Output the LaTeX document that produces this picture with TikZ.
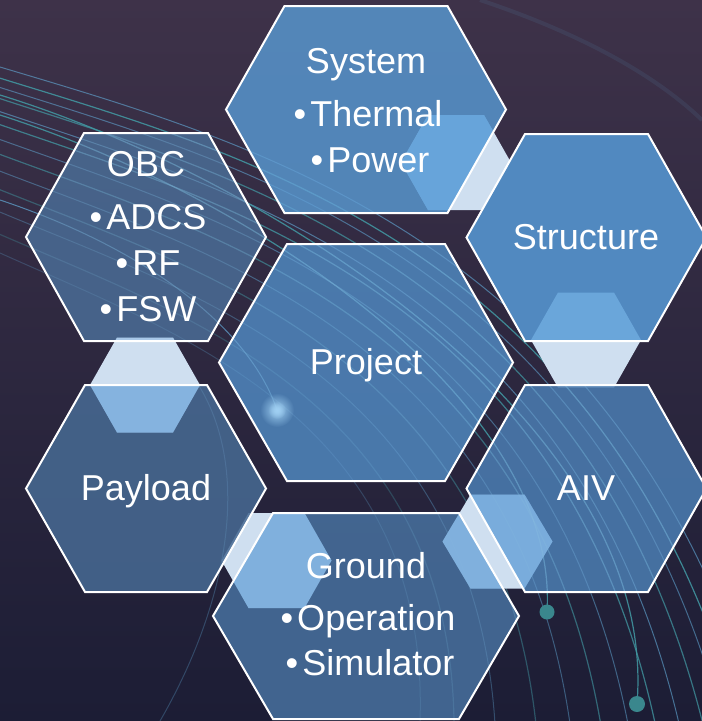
\documentclass[tikz,border=0pt]{standalone}
\usepackage{fontspec}
\setmainfont{Liberation Sans}
\usetikzlibrary{fadings}

\definecolor{bgtop}{HTML}{3E3249}
\definecolor{bgbot}{HTML}{1C1D35}
\definecolor{streakteal}{HTML}{429AA4}
\definecolor{streakblue}{HTML}{62A9D6}
\definecolor{dotteal}{HTML}{3A878D}
\definecolor{pale}{HTML}{CFDFF0}
\definecolor{hexsys}{HTML}{5794CB}
\definecolor{hexobc}{HTML}{4A6C95}
\definecolor{hexstr}{HTML}{5189C0}
\definecolor{hexprj}{HTML}{4F86BD}
\definecolor{hexpay}{HTML}{476A93}
\definecolor{hexaiv}{HTML}{4B7DB2}
\definecolor{hexgnd}{HTML}{47709E}
\definecolor{litsys}{HTML}{67A4DA}
\definecolor{litstr}{HTML}{6AA6DA}
\definecolor{litpay}{HTML}{85B3DF}
\definecolor{litgnd}{HTML}{80B0DD}
\definecolor{litaiv}{HTML}{79ACDC}
\definecolor{litobc}{HTML}{A9C8E8}
\definecolor{glowc}{HTML}{9FCFF2}

\tikzfading[name=softglow, inner color=transparent!0, outer color=transparent!100]

% flat-topped hexagon: centre (#1,#2), half-width #3, half-height #4, half top edge #5
\newcommand\hexpath[5]{({#1-#3},#2) -- ({#1-#5},{#2-#4}) -- ({#1+#5},{#2-#4}) -- ({#1+#3},#2) -- ({#1+#5},{#2+#4}) -- ({#1-#5},{#2+#4}) -- cycle}
% the seven large hexagons
\newcommand\hexsystem{\hexpath{366}{109.5}{140}{103.5}{81.5}}
\newcommand\hexobcb{\hexpath{146}{237}{120}{104}{62}}
\newcommand\hexstructure{\hexpath{586.5}{237.5}{120}{103.5}{61.5}}
\newcommand\hexproject{\hexpath{366}{362.5}{147}{118.5}{79}}
\newcommand\hexpayload{\hexpath{146}{488.5}{120}{103.5}{61}}
\newcommand\hexaivb{\hexpath{586.5}{488.5}{120}{103.5}{61.5}}
\newcommand\hexground{\hexpath{366}{616}{153}{103}{93}}
% bullet followed by a small gap
\newcommand\bul{•\kern4pt}

% sweeping streaks from the left edge towards the lower right; \opk scales their opacity
\def\opk{1}
\newcommand\streakset{%
  \foreach \f/\sty/\op in {0/streakB/0.6, 0.06/streakT/0.85, 0.11/streakB/0.55, 0.17/streakT/0.7,
                           0.24/streakB/0.6, 0.31/streakT/0.75, 0.39/streakB/0.5, 0.47/streakT/0.6,
                           0.56/streakB/0.45, 0.66/streakT/0.45, 0.78/streakB/0.35, 0.9/streakT/0.3, 1/streakB/0.25}{
    \pgfmathsetmacro\opx{\op*\opk}
    \draw[\sty, opacity=\opx] (0,{67+186*\f})
       .. controls ({250-70*\f},{67+186*\f+(250-70*\f)*(0.3+0.15*\f)}) and ({620-190*\f},{240+180*\f})
       .. ({760-340*\f},721);
  }
  \pgfmathsetmacro\opx{0.85*\opk}
  \draw[streakT, opacity=\opx] (0,95) .. controls (260,175) and (660,420) .. (637,704);
  \draw[streakT, opacity=\opx] (0,115) .. controls (250,195) and (560,400) .. (547,612);
  \pgfmathsetmacro\opx{0.7*\opk}
  \draw[streakB, opacity=\opx] (0,200) .. controls (150,250) and (250,330) .. (277,410);
  \pgfmathsetmacro\opx{0.3*\opk}
  \draw[streakB, opacity=\opx] (180,360) .. controls (260,450) and (230,600) .. (160,721);
}

\tikzset{
  streakT/.style={streakteal, line width=1.2pt},
  streakB/.style={streakblue, line width=1pt},
  bighex/.style={fill opacity=0.86},
  hexrim/.style={draw=white, line width=2pt, line join=miter},
  lbl/.style={text=white, font=\fontsize{36}{40}\selectfont, anchor=base, inner sep=0pt},
}

\begin{document}
\begin{tikzpicture}[x=1pt, y=-1pt]
\useasboundingbox (0,0) rectangle (702,721);

% background
\shade[top color=bgtop, bottom color=bgbot] (0,0) rectangle (702,721);
\streakset
\draw[streakB, opacity=0.1, line width=4pt] (480,0) .. controls (570,30) and (650,70) .. (702,120);

% dots at the ends of two streaks
\fill[dotteal] (547,612) circle (7.5);
\fill[dotteal] (637,704) circle (8);

% small connector hexagons
\fill[pale] \hexpath{456}{162.5}{55}{47.5}{28};
\fill[pale] \hexpath{586}{340}{55}{47.5}{28};
\fill[pale] \hexpath{497.5}{541.5}{55}{47}{27};
\fill[pale] \hexpath{276.5}{560.5}{55}{47.5}{28};
\fill[pale] \hexpath{145}{385}{55}{47.5}{28};

% large hexagon fills
\fill[hexsys, bighex] \hexsystem;
\fill[hexobc, bighex] \hexobcb;
\fill[hexstr] \hexstructure;
\fill[hexprj, bighex] \hexproject;
\fill[hexpay, bighex] \hexpayload;
\fill[hexaiv, bighex] \hexaivb;
\fill[hexgnd, bighex] \hexground;

% connector parts seen through the large hexagons
\begin{scope}
  \clip \hexsystem;
  \fill[litsys] \hexpath{456}{162.5}{55}{47.5}{28};
\end{scope}
\begin{scope}
  \clip \hexstructure;
  \fill[litstr] \hexpath{586}{340}{55}{47.5}{28};
\end{scope}
\begin{scope}
  \clip \hexaivb;
  \fill[litaiv] \hexpath{497.5}{541.5}{55}{47}{27};
\end{scope}
\begin{scope}
  \clip \hexground;
  \fill[litgnd] \hexpath{497.5}{541.5}{55}{47}{27};
  \fill[litgnd] \hexpath{276.5}{560.5}{55}{47.5}{28};
\end{scope}
\begin{scope}
  \clip \hexpayload;
  \fill[litpay] \hexpath{145}{385}{55}{47.5}{28};
\end{scope}
\begin{scope}
  \clip \hexobcb;
  \fill[litobc] \hexpath{145}{385}{55}{47.5}{28};
\end{scope}

% streaks glimpsed through the translucent hexagons
\begin{scope}[streakT/.style={streakblue!75!white, line width=1.2pt},
              streakB/.style={streakblue!75!white, line width=1pt}]
  \clip \hexobcb \hexproject \hexpayload \hexaivb \hexground;
  \def\opk{0.4}
  \streakset
\end{scope}
\begin{scope}[streakT/.style={streakblue!75!white, line width=1.2pt},
              streakB/.style={streakblue!75!white, line width=1pt}]
  \clip \hexsystem;
  \def\opk{0.2}
  \streakset
\end{scope}

% glow spot on the project hexagon
\fill[glowc, path fading=softglow] (277,410) circle (17);
\fill[glowc, path fading=softglow] (277,410) circle (9);

% hexagon outlines
\draw[hexrim] \hexsystem;
\draw[hexrim] \hexobcb;
\draw[hexrim] \hexstructure;
\draw[hexrim] \hexproject;
\draw[hexrim] \hexpayload;
\draw[hexrim] \hexaivb;
\draw[hexrim] \hexground;

% labels
\node[lbl] (sys)  at (366,73)  {System};
\node[lbl] (sys1) at (368,126) {\bul Thermal};
\node[lbl] (sys2) at (370,172) {\bul Power};

\node[lbl] (obc)  at (146,176) {OBC};
\node[lbl] (obc1) at (148,229) {\bul ADCS};
\node[lbl] (obc2) at (148,275) {\bul RF};
\node[lbl] (obc3) at (148,321) {\bul FSW};

\node[lbl] (str) at (586,249) {Structure};
\node[lbl] (prj) at (366,374) {Project};
\node[lbl] (pay) at (146,500) {Payload};
\node[lbl] (aiv) at (586,500) {AIV};

\node[lbl] (gnd)  at (366,578) {Ground};
\node[lbl] (gnd1) at (368,630) {\bul Operation};
\node[lbl] (gnd2) at (370,675) {\bul Simulator};
\end{tikzpicture}
\end{document}
